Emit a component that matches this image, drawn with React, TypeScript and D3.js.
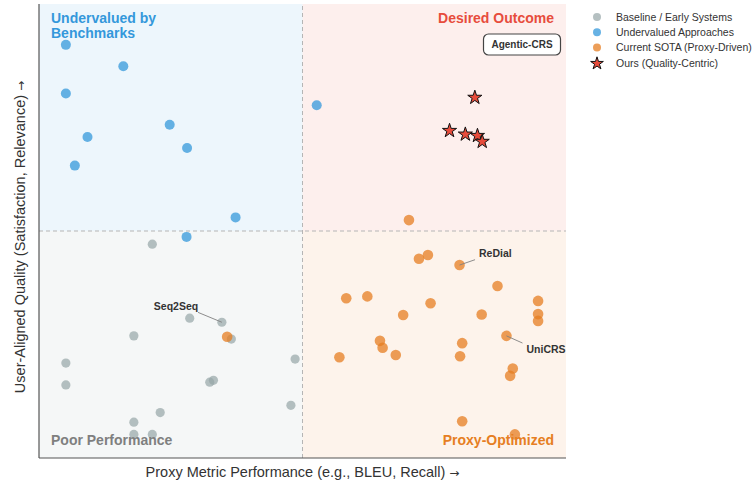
import * as d3 from "d3";

// Baseline / early systems (gray)
const baselineX = [0.215, 0.286, 0.347, 0.365, 0.180, 0.051, 0.486, 0.051, 0.324, 0.331, 0.478, 0.230, 0.180, 0.180, 0.215];
const baselineY = [0.471, 0.308, 0.299, 0.262, 0.269, 0.209, 0.218, 0.161, 0.167, 0.171, 0.116, 0.100, 0.079, 0.052, 0.052];

// Undervalued approaches (blue)
const underX = [0.051, 0.160, 0.051, 0.248, 0.092, 0.281, 0.068, 0.373, 0.280, 0.527];
const underY = [0.910, 0.863, 0.803, 0.734, 0.707, 0.683, 0.644, 0.530, 0.487, 0.777];

// Current SOTA (orange)
const sotaX = [0.702, 0.357, 0.721, 0.738, 0.798, 0.870, 0.583, 0.623, 0.743, 0.691, 0.840, 0.947, 0.947, 0.947, 0.887, 0.647, 0.652, 0.803, 0.570, 0.677, 0.799, 0.899, 0.894, 0.803, 0.903];
const sotaY = [0.524, 0.267, 0.439, 0.447, 0.425, 0.379, 0.352, 0.356, 0.341, 0.315, 0.316, 0.346, 0.317, 0.302, 0.269, 0.258, 0.243, 0.253, 0.222, 0.227, 0.224, 0.197, 0.181, 0.081, 0.052];

// Ours (stars)
const oursX = [0.827, 0.779, 0.809, 0.832, 0.841];
const oursY = [0.795, 0.722, 0.714, 0.711, 0.698];

const legendLabels = ["Baseline / Early Systems", "Undervalued Approaches", "Current SOTA (Proxy-Driven)", "Ours (Quality-Centric)"];

const W = 756, H = 483;
const m = { left: 39, right: 190, top: 4, bottom: 25 };
const FONT = "'Liberation Sans', Arial, Helvetica, sans-serif";

export default function App() {
	const x = d3.scaleLinear().domain([0, 1]).range([m.left, W - m.right]);
	const y = d3.scaleLinear().domain([0, 1]).range([H - m.bottom, m.top]);
	const star = d3.symbol(d3.symbolStar).size(62)();
	const starSmall = d3.symbol(d3.symbolStar).size(50)();

	const pts = (xs: number[], ys: number[]) => xs.map((v, i) => [x(v), y(ys[i])]);

	const quads = [
		{ x0: 0, x1: 0.5, y0: 0.5, y1: 1, c: "#3498db" },
		{ x0: 0.5, x1: 1, y0: 0.5, y1: 1, c: "#e74c3c" },
		{ x0: 0, x1: 0.5, y0: 0, y1: 0.5, c: "#95a5a6" },
		{ x0: 0.5, x1: 1, y0: 0, y1: 0.5, c: "#e67e22" },
	];

	// annotations: [label, point x, point y, text x, text y, anchor]
	const notes: [string, number, number, number, number, string][] = [
		["Seq2Seq", 0.347, 0.299, 0.26, 0.334, "middle"],
		["ReDial", 0.798, 0.425, 0.835, 0.45, "start"],
		["UniCRS", 0.887, 0.269, 0.925, 0.24, "start"],
	];

	return (
		<svg width={W} height={H} style={{ position: "absolute", left: 0, top: 0, fontFamily: FONT }}>
			<rect width={W} height={H} fill="#fff" />
			{quads.map((q, i) => (
				<rect key={i} x={x(q.x0)} y={y(q.y1)} width={x(q.x1) - x(q.x0)} height={y(q.y0) - y(q.y1)} fill={q.c} fillOpacity={0.09} />
			))}
			<line x1={x(0.5)} x2={x(0.5)} y1={y(0)} y2={y(1)} stroke="#b5b5b5" strokeDasharray="4,3" strokeWidth={1} />
			<line x1={x(0)} x2={x(1)} y1={y(0.5)} y2={y(0.5)} stroke="#b5b5b5" strokeDasharray="4,3" strokeWidth={1} />

			{pts(baselineX, baselineY).map(([cx, cy], i) => (
				<circle key={"b" + i} cx={cx} cy={cy} r={4.6} fill="#95a5a6" fillOpacity={0.7} />
			))}
			{pts(underX, underY).map(([cx, cy], i) => (
				<circle key={"u" + i} cx={cx} cy={cy} r={5} fill="#3498db" fillOpacity={0.75} />
			))}
			{pts(sotaX, sotaY).map(([cx, cy], i) => (
				<circle key={"s" + i} cx={cx} cy={cy} r={5.3} fill="#e67e22" fillOpacity={0.75} />
			))}
			{pts(oursX, oursY).map(([cx, cy], i) => (
				<path key={"o" + i} d={star} transform={`translate(${cx},${cy + 0.5})`} fill="#e74c3c" stroke="#111" strokeWidth={1} />
			))}

			{notes.map(([t, px, py, tx, ty, anchor]) => {
				const lx = anchor === "middle" ? x(tx) + 22 : x(tx) - 4;
				const ly = anchor === "middle" ? y(ty) + 6 : y(ty) + (ty > py ? 6 : -6);
				return (
					<g key={t}>
						<line x1={lx} y1={ly} x2={x(px)} y2={y(py)} stroke="#808080" strokeWidth={0.9} />
						<text x={x(tx)} y={y(ty)} textAnchor={anchor} dy="0.35em" fontSize={10.5} fontWeight="bold" fill="#333">{t}</text>
					</g>
				);
			})}

			<rect x={483.5} y={34} width={77} height={21} rx={5} fill="#fff" stroke="#444" strokeWidth={1.2} />
			<text x={522} y={44.5} dy="0.35em" textAnchor="middle" fontSize={10} fontWeight="bold" fill="#333">Agentic-CRS</text>

			<text x={51} y={23} fontSize={14} fontWeight="bold" fill="#3498db">
				<tspan x={51}>Undervalued by</tspan>
				<tspan x={51} dy={14.5}>Benchmarks</tspan>
			</text>
			<text x={554} y={23} textAnchor="end" fontSize={14} fontWeight="bold" fill="#e74c3c">Desired Outcome</text>
			<text x={51} y={445} fontSize={14} fontWeight="bold" fill="#7f7f7f">Poor Performance</text>
			<text x={554} y={445} textAnchor="end" fontSize={14} fontWeight="bold" fill="#e67e22">Proxy-Optimized</text>

			<line x1={x(0)} x2={x(0)} y1={y(0)} y2={y(1)} stroke="#555" strokeWidth={1.2} />
			<line x1={x(0)} x2={x(1)} y1={y(0)} y2={y(0)} stroke="#555" strokeWidth={1.2} />

			<text x={x(0.5)} y={477} textAnchor="middle" fontSize={14.5} fill="#333">
				Proxy Metric Performance (e.g., BLEU, Recall) <tspan fontFamily="'DejaVu Sans'" fontSize={12}>→</tspan>
			</text>
			<text transform={`translate(25,${y(0.5) + 6}) rotate(-90)`} textAnchor="middle" fontSize={14.5} fill="#333">
				User-Aligned Quality (Satisfaction, Relevance) <tspan fontFamily="'DejaVu Sans'" fontSize={12}>→</tspan>
			</text>

			<g transform="translate(597,17)" fontSize={10.5} fill="#333">
				<circle cx={0} cy={0} r={4} fill="#95a5a6" fillOpacity={0.7} />
				<circle cx={0} cy={15.3} r={4} fill="#3498db" fillOpacity={0.75} />
				<circle cx={0} cy={30.6} r={4} fill="#e67e22" fillOpacity={0.75} />
				<path d={starSmall} transform="translate(0,46.5)" fill="#e74c3c" stroke="#111" strokeWidth={1} />
				{legendLabels.map((l, i) => (
					<text key={l} x={19} y={i * 15.3} dy="0.35em">{l}</text>
				))}
			</g>
		</svg>
	);
}
